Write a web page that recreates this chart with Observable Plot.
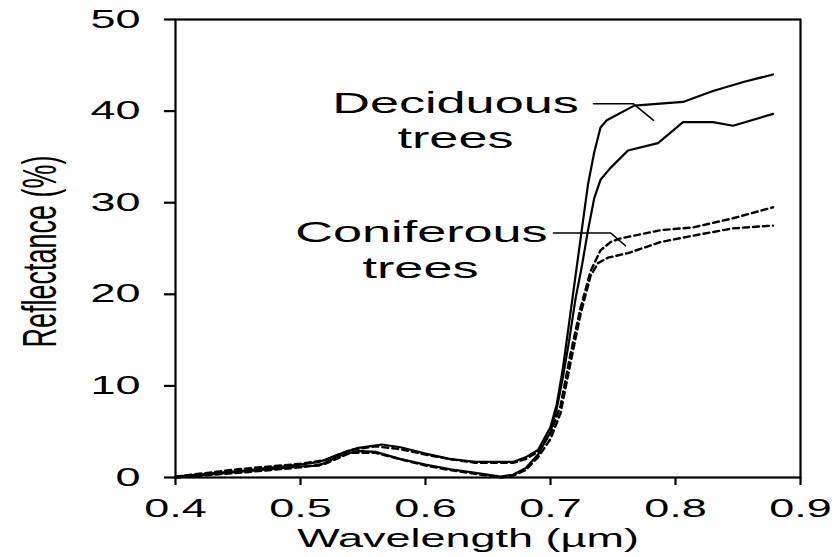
<!DOCTYPE html>
<html><head><meta charset="utf-8">
<script src="https://cdn.jsdelivr.net/npm/d3@7"></script>
<script src="https://cdn.jsdelivr.net/npm/@observablehq/plot@0.6"></script>
<style>body{margin:0;background:#fff}</style>
</head><body><div id="chart"></div>
<script>
// Deciduous trees (two solid curves)
const decidUpperWl   = [0.40,0.45,0.50,0.515,0.53,0.545,0.565,0.58,0.60,0.62,0.64,0.67,0.68,0.69,0.70,0.705,0.71,0.715,0.72,0.725,0.73,0.735,0.74,0.745,0.767,0.806,0.83,0.855,0.878];
const decidUpperRefl = [0.1,0.7,1.4,1.7,2.5,3.2,3.6,3.3,2.6,2.0,1.7,1.7,2.2,3.0,5.5,8,12,17,22,27,32,35.5,38.2,39.0,40.6,41.0,42.2,43.2,44.0];
const decidLowerWl   = [0.40,0.45,0.50,0.515,0.53,0.545,0.56,0.58,0.60,0.62,0.64,0.66,0.67,0.68,0.69,0.70,0.705,0.71,0.715,0.72,0.725,0.73,0.735,0.74,0.748,0.762,0.786,0.806,0.83,0.846,0.878];
const decidLowerRefl = [0,0.6,1.2,1.3,2.3,2.9,2.8,2.0,1.4,0.9,0.5,0.1,0.3,1.0,2.5,5,7.5,11,15,19.5,23,27,30.5,32.5,33.8,35.7,36.5,38.8,38.8,38.4,39.7];
// Coniferous trees (two dashed curves)
const conifUpperWl   = [0.40,0.45,0.50,0.52,0.54,0.56,0.58,0.60,0.62,0.64,0.67,0.68,0.69,0.70,0.708,0.716,0.724,0.732,0.74,0.748,0.756,0.788,0.814,0.846,0.878];
const conifUpperRefl = [0.1,0.9,1.5,1.9,3.0,3.4,3.1,2.5,2.0,1.6,1.6,2.0,2.8,4.8,7.8,13.5,18.5,22.5,24.8,25.7,26.1,27.0,27.3,28.3,29.5];
const conifLowerWl   = [0.40,0.45,0.50,0.52,0.54,0.56,0.58,0.60,0.62,0.64,0.66,0.67,0.68,0.69,0.70,0.708,0.716,0.724,0.732,0.738,0.746,0.762,0.788,0.814,0.846,0.878];
const conifLowerRefl = [0,0.5,1.1,1.5,2.7,2.7,2.0,1.3,0.8,0.4,0.0,0.2,0.8,2.2,4.2,7.0,12.5,17.8,22.0,23.4,24.0,24.5,25.7,26.4,27.2,27.5];
// leader lines for the labels
const leaderDecidWl = [0.7344,0.7664,0.7824];
const leaderDecidRefl = [40.8,40.8,39.0];
const leaderConifWl = [0.7024,0.748,0.76];
const leaderConifRefl = [26.7,26.7,25.3];
// labels
const labelText = ["Deciduous","trees","Coniferous","trees"];
const labelWl   = [0.624,0.624,0.5968,0.596];
const labelRefl = [40.8,37.0,26.75,22.8];
// ticks
const xTicks = [0.4,0.5,0.6,0.7,0.8,0.9];
const yTicks = [0,10,20,30,40,50];
const xTitle = "Wavelength (\u00b5m)";
const yTitle = "Reflectance (%)";

const mk = (w, r) => w.map((d, i) => ({w: d, r: r[i]}));
const labels = labelText.map((t, i) => ({t, w: labelWl[i], r: labelRefl[i]}));

const svg = Plot.plot({
  width: 835, height: 557,
  marginLeft: 175, marginRight: 35, marginTop: 19, marginBottom: 80,
  style: {fontFamily: "'Liberation Sans', Arial, sans-serif", fontSize: "25px", color: "#000", background: "#fff"},
  x: {domain: [0.4, 0.9]},
  y: {domain: [0, 50]},
  marks: [
    Plot.frame({stroke: "#000", strokeWidth: 2.2}),
    Plot.axisX({ticks: xTicks, tickSize: 8, tickPadding: 14, strokeWidth: 2.2, tickFormat: d => d.toFixed(1), label: null, fontSize: 25}),
    Plot.axisY({ticks: yTicks, tickSize: 11, tickPadding: 24, strokeWidth: 2.2, label: null, fontSize: 25}),
    Plot.line(mk(decidUpperWl, decidUpperRefl), {x: "w", y: "r", stroke: "#000", strokeWidth: 2.2}),
    Plot.line(mk(decidLowerWl, decidLowerRefl), {x: "w", y: "r", stroke: "#000", strokeWidth: 2.2}),
    Plot.line(mk(conifUpperWl, conifUpperRefl), {x: "w", y: "r", stroke: "#000", strokeWidth: 2.4, strokeDasharray: "6,4"}),
    Plot.line(mk(conifLowerWl, conifLowerRefl), {x: "w", y: "r", stroke: "#000", strokeWidth: 2.4, strokeDasharray: "6,4"}),
    Plot.line(mk(leaderDecidWl, leaderDecidRefl), {x: "w", y: "r", stroke: "#000", strokeWidth: 1.6}),
    Plot.line(mk(leaderConifWl, leaderConifRefl), {x: "w", y: "r", stroke: "#000", strokeWidth: 1.6}),
    Plot.text(labels, {x: "w", y: "r", text: "t", fontSize: 29, textAnchor: "middle", lineAnchor: "middle", fill: "#000"}),
    Plot.text([xTitle], {frameAnchor: "bottom", dx: -20, dy: 61, text: d => d, fontSize: 25, textAnchor: "middle", lineAnchor: "middle", fill: "#000"}),
    Plot.text([yTitle], {frameAnchor: "left", dx: -135, dy: 3, text: d => d, fontSize: 27, rotate: -90, textAnchor: "middle", lineAnchor: "middle", fill: "#000"})
  ]
});
document.getElementById("chart").append(svg);

// Reference artwork is horizontally stretched: widen glyphs around their own anchor points.
svg.querySelectorAll("text").forEach(t => {
  const tr = t.getAttribute("transform") || "";
  const b = t.getBBox();
  const anchor = getComputedStyle(t).textAnchor;
  const ax = anchor === "middle" ? b.x + b.width / 2 : anchor === "end" ? b.x + b.width : b.x;
  const ay = b.y + b.height / 2;
  const rot = /rotate/.test(tr);
  const s = rot ? "scale(1,1.75)" : "scale(1.8,1)";
  t.setAttribute("transform", `${tr} translate(${ax},${ay}) ${s} translate(${-ax},${-ay})`.trim());
});
</script>
</body></html>
